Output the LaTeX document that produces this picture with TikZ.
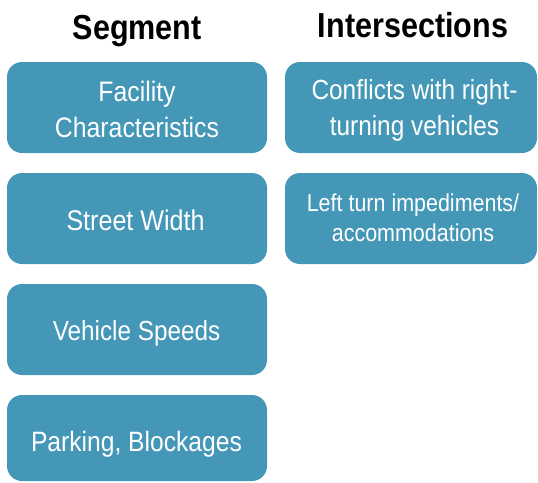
\documentclass[tikz,border=0pt]{standalone}
\usepackage{fontspec}
\setmainfont{Liberation Sans}[FakeStretch=0.88]
\definecolor{boxc}{HTML}{4497B6}
\begin{document}
\begin{tikzpicture}[x=1pt,y=-1pt,
  box/.style={fill=boxc, draw=none, rounded corners=15pt, inner sep=0pt},
  lbl/.style={text=white, inner sep=0pt, anchor=base},
  hdr/.style={text=black, inner sep=0pt, anchor=base, font=\fontsize{34.7}{40}\selectfont\bfseries}]
\useasboundingbox (0,0) rectangle (538,482);
% headers
\node[hdr] (hseg) at (137.2,39.5) {Segment};
\node[hdr] (hint) at (413,37.5) {Intersections};
% left column boxes
\node[box, minimum width=260pt, minimum height=91pt] (b1) at (137,107.5) {};
\node[box, minimum width=260pt, minimum height=91pt] (b2) at (137,218.5) {};
\node[box, minimum width=260pt, minimum height=91pt] (b3) at (137,329.5) {};
\node[box, minimum width=260pt, minimum height=86pt] (b4) at (137,438) {};
% right column boxes
\node[box, minimum width=252pt, minimum height=91pt] (r1) at (411,107.5) {};
\node[box, minimum width=252pt, minimum height=91pt] (r2) at (411,218.5) {};
% texts
\node[lbl, font=\fontsize{28.2}{34}\selectfont] (t1a) at (137,101.5) {Facility};
\node[lbl, font=\fontsize{28.2}{34}\selectfont] (t1b) at (137,137.3) {Characteristics};
\node[lbl, font=\fontsize{28.5}{34}\selectfont] (t2) at (135.5,230.3) {Street Width};
\node[lbl, font=\fontsize{27.6}{33}\selectfont] (t3) at (136.5,340.5) {Vehicle Speeds};
\node[lbl, font=\fontsize{28}{33}\selectfont] (t4) at (136.5,451.7) {Parking, Blockages};
\node[lbl, font=\fontsize{27.7}{33}\selectfont] (r1a) at (414.5,99.3) {Conflicts with right-};
\node[lbl, font=\fontsize{27.7}{33}\selectfont] (r1b) at (414.5,135) {turning vehicles};
\node[lbl, font=\fontsize{24.4}{30}\selectfont] (r2a) at (413,211.7) {Left turn impediments/};
\node[lbl, font=\fontsize{24.4}{30}\selectfont] (r2b) at (413,241.7) {accommodations};
\end{tikzpicture}
\end{document}
